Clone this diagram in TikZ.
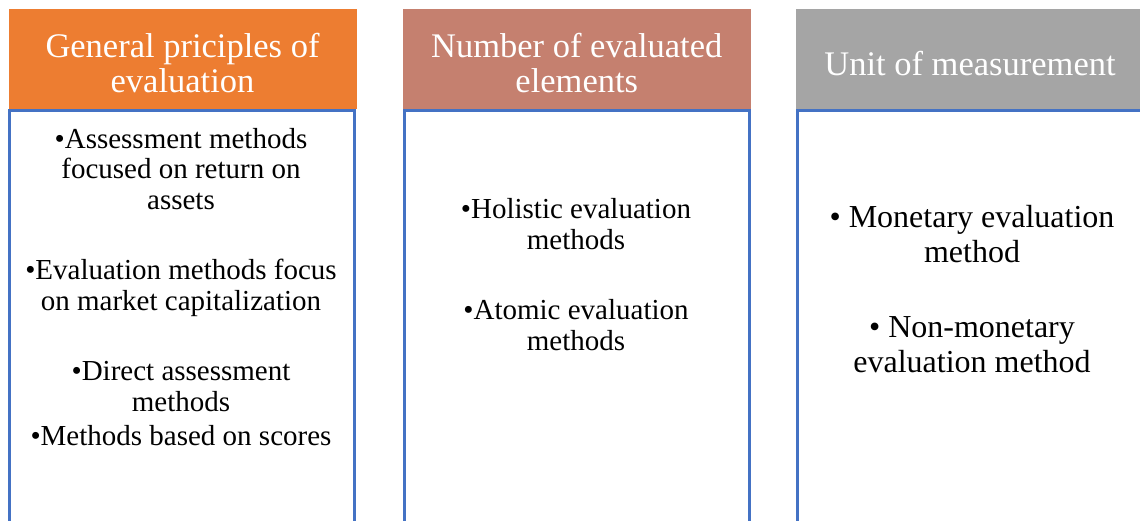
\documentclass[tikz,border=0pt]{standalone}
\usepackage{fontspec}
\setmainfont{Liberation Serif}
\usepackage{tikz}
\definecolor{corange}{HTML}{ED7D31}
\definecolor{crose}{HTML}{C5806F}
\definecolor{cgray}{HTML}{A5A5A5}
\definecolor{cblue}{HTML}{4472C4}

\begin{document}
\begin{tikzpicture}[x=1pt,y=-1pt,
  head node/.style={rectangle,minimum width=348pt,minimum height=100pt,inner sep=0pt},
  head text/.style={anchor=base,inner sep=0pt,text=white,align=center,
    font=\fontsize{34.5}{35}\selectfont},
  body node/.style={rectangle,draw=cblue,line width=2.5pt,minimum width=345pt,
    minimum height=460pt,inner sep=0pt},
  item node/.style={anchor=base,inner sep=0pt,align=center,font=\fontsize{29}{30.5}\selectfont},
  big item node/.style={item node,font=\fontsize{32}{35}\selectfont}]
  \path[use as bounding box,clip] (0,0) rectangle (1140,521);

  % headers
  \node[head node,fill=corange] (1) at (182.5,59) {};
  \node[head node,fill=crose] (2) at (576.75,59) {};
  \node[head node,fill=cgray] (3) at (970,59) {};
  \node[head text] (1t) at (182.5,92.5) {General priciples of\\evaluation};
  \node[head text] (2t) at (576.75,92.5) {Number of evaluated\\elements};
  \node[head text] (3t) at (970,75.5) {Unit of measurement};

  % bodies
  \node[body node] (4) at (182,340.5) {};
  \node[body node] (5) at (577,340.5) {};
  \node[body node] (6) at (970,340.5) {};

  % items (placed at the baseline of their last line)
  \node[item node] (7) at (181,209.5) {\textbullet Assessment methods\\focused on return on\\assets};
  \node[item node] (8) at (181,310) {\textbullet Evaluation methods focus\\on market capitalization};
  \node[item node] (9) at (181,411) {\textbullet Direct assessment\\methods};
  \node[item node] (10) at (181,445.5) {\textbullet Methods based on scores};
  \node[item node] (11) at (576,249.5) {\textbullet Holistic evaluation\\methods};
  \node[item node] (12) at (576,350) {\textbullet Atomic evaluation\\methods};
  \node[big item node] (13) at (972,262.5) {\textbullet{} Monetary evaluation\\method};
  \node[big item node] (14) at (972,372) {\textbullet{} Non-monetary\\evaluation method};
\end{tikzpicture}
\end{document}
